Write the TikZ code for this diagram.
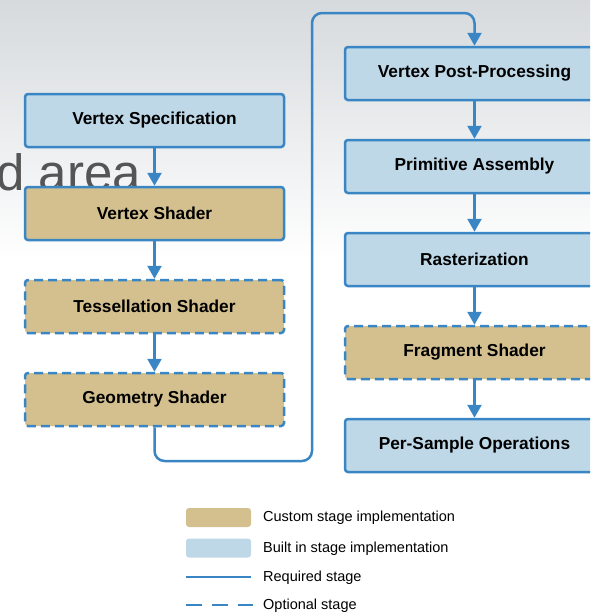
\documentclass[tikz,border=0pt]{standalone}
\usepackage{fontspec}
\setmainfont{Liberation Sans}
\usetikzlibrary{arrows.meta}
\definecolor{lineblue}{HTML}{3A86C4}
\definecolor{builtin}{HTML}{BED8E8}
\definecolor{custom}{HTML}{D3C08E}
\definecolor{bgtop}{HTML}{D6DADD}
\definecolor{ghost}{HTML}{555555}
\begin{document}
\begin{tikzpicture}[x=1pt,y=-1pt,
  stagebox/.style={draw=lineblue, line width=2.5pt, rounded corners=3pt,
    minimum width=259pt, minimum height=53pt, inner sep=0pt,
    font=\bfseries\fontsize{17.3}{20}\selectfont},
  builtbox/.style={stagebox, fill=builtin},
  custbox/.style={stagebox, fill=custom},
  optbox/.style={custbox, dash pattern=on 9pt off 5pt},
  conn/.style={draw=lineblue, line width=2.5pt,
    -{Triangle[width=14pt,length=13pt]}},
  swatch/.style={rounded corners=3pt, minimum width=65pt, minimum height=19pt, inner sep=0pt},
  legtext/.style={anchor=west, inner sep=0pt, font=\fontsize{14.5}{17}\selectfont}]
\useasboundingbox (0,0) rectangle (590,614);
\clip (0,0) rectangle (590,614);
% background
\shade[top color=bgtop, bottom color=white] (0,0) rectangle (590,260);
\node[anchor=base west, inner sep=0pt, text=ghost, font=\fontsize{51}{51}\selectfont] (ghosttext) at (-4,190) {d area};
% left column
\node[builtbox] (vs) at (154.5,120.5) {Vertex Specification};
\node[custbox] (vsh) at (154.5,213.5) {Vertex Shader};
\node[optbox] (ts) at (154.5,306.5) {Tessellation Shader};
\node[optbox] (gs) at (154.5,399.5) {Geometry Shader};
% right column
\node[builtbox] (vpp) at (474.5,73.5) {Vertex Post-Processing};
\node[builtbox] (pa) at (474.5,166.5) {Primitive Assembly};
\node[builtbox] (ra) at (474.5,259.5) {Rasterization};
\node[optbox] (fs) at (474.5,352.5) {Fragment Shader};
\node[builtbox] (pso) at (474.5,445.5) {Per-Sample Operations};
% connectors
\draw[conn] (vs) -- (vsh);
\draw[conn] (vsh) -- (ts);
\draw[conn] (ts) -- (gs);
\draw[conn] (vpp) -- (pa);
\draw[conn] (pa) -- (ra);
\draw[conn] (ra) -- (fs);
\draw[conn] (fs) -- (pso);
\coordinate (k1) at (312,461);
\coordinate (k2) at (312,13);
\draw[conn, rounded corners=10pt] (gs.south) |- (k1) -- (k2) -| (vpp.north);
% legend
\node[swatch, fill=custom] (l1) at (218.5,517.5) {};
\node[legtext] (t1) at (263,518) {Custom stage implementation};
\node[swatch, fill=builtin] (l2) at (218.5,548) {};
\node[legtext] (t2) at (263,548.5) {Built in stage implementation};
\coordinate (r1) at (186,577);
\coordinate (r2) at (251,577);
\draw[draw=lineblue, line width=2.5pt] (r1) -- (r2);
\node[legtext] (t3) at (263,577.5) {Required stage};
\coordinate (o1) at (186,605);
\coordinate (o2) at (253,605);
\draw[draw=lineblue, line width=2.5pt, dash pattern=on 16pt off 10pt] (o1) -- (o2);
\node[legtext] (t4) at (263,605.5) {Optional stage};
\end{tikzpicture}
\end{document}
